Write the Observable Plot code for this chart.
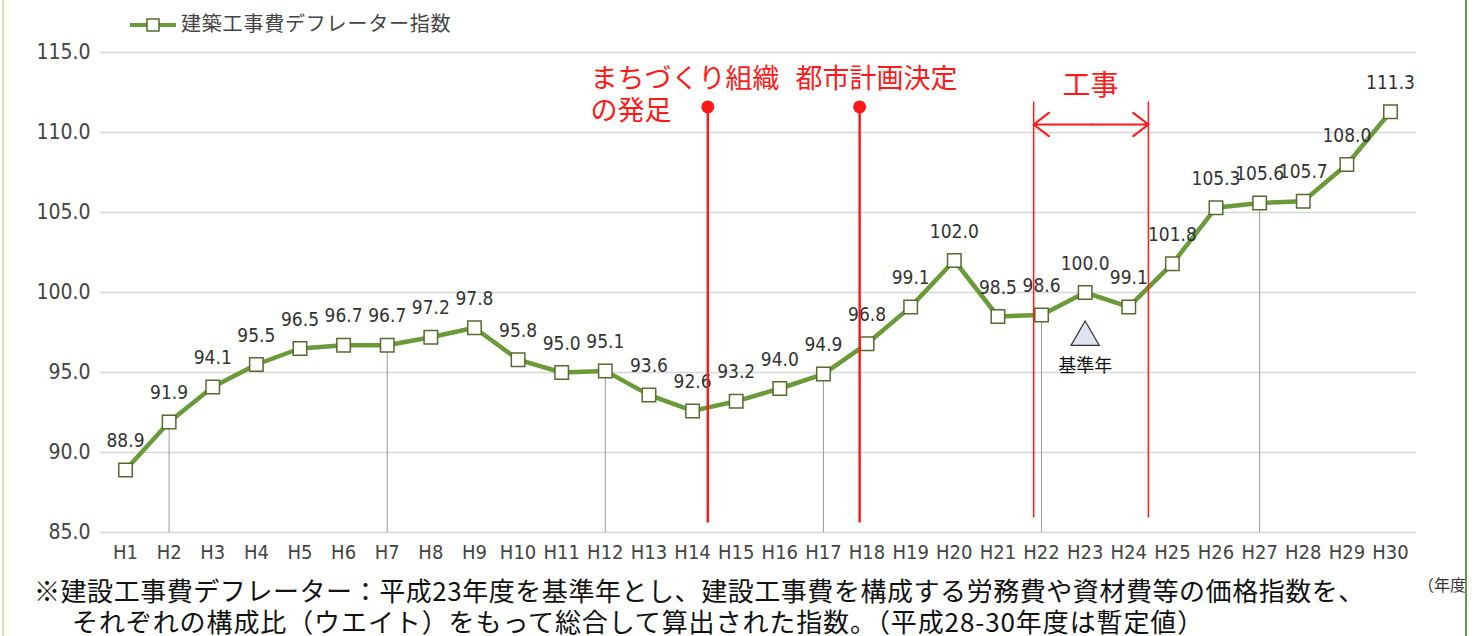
<!DOCTYPE html>
<html>
<head>
<meta charset="utf-8">
<script src="https://cdn.jsdelivr.net/npm/d3@7"></script>
<script src="https://cdn.jsdelivr.net/npm/@observablehq/plot@0.6"></script>
<style>
  html, body { margin: 0; padding: 0; background: #fff; }
  #wrap { position: relative; width: 1484px; height: 636px; overflow: hidden; background: #fff; }
  #legend { position: relative; height: 40px; font-family: "Noto Sans CJK JP", sans-serif; font-size: 20px; color: #444; }
  #legend .sym { position: absolute; left: 130px; top: 16px; width: 46px; height: 18px; }
  #legend .txt { position: absolute; left: 181px; top: 8px; letter-spacing: 0.8px; white-space: nowrap; }
  #note { position: relative; height: 66px; font-family: "Noto Sans CJK JP", sans-serif; font-size: 26px; color: #111; line-height: 30px; }
  #note .l1 { position: absolute; left: 34px; top: 5px; white-space: nowrap; letter-spacing: 0.55px; }
  #note .l2 { position: absolute; left: 72px; top: 36px; white-space: nowrap; letter-spacing: 0.9px; }
  #unit { position: absolute; left: 1418px; top: 572px; font-family: "Noto Sans CJK JP", sans-serif; font-size: 16px; color: #333; white-space: nowrap; }
  #bl { position: absolute; left: 2px; top: 0; width: 2px; height: 636px; background: #c9e3b8; }
  #br { position: absolute; left: 1465px; top: 0; width: 1.5px; height: 636px; background: #6b8f4a; }
  #cover { position: absolute; left: 1467px; top: 0; width: 17px; height: 636px; background: #fff; }
</style>
</head>
<body>
<div id="wrap">
  <div id="legend">
    <svg class="sym" viewBox="0 0 46 18"><line x1="0" y1="9" x2="46" y2="9" stroke="#6b9a3a" stroke-width="4"/><rect x="17" y="3" width="12" height="12" fill="#fff" stroke="#556b2f" stroke-width="1.5"/></svg>
    <span class="txt">建築工事費デフレーター指数</span>
  </div>
  <div id="chart"></div>
  <div id="note">
    <div class="l1">※建設工事費デフレーター：平成23年度を基準年とし、建設工事費を構成する労務費や資材費等の価格指数を、</div>
    <div class="l2">それぞれの構成比（ウエイト）をもって総合して算出された指数。（平成28-30年度は暫定値）</div>
  </div>
  <div id="unit">（年度</div>
  <div id="bl"></div>
  <div id="cover"></div>
  <div id="br"></div>
</div>
<script>
// ---- data ----
const years = [1,2,3,4,5,6,7,8,9,10,11,12,13,14,15,16,17,18,19,20,21,22,23,24,25,26,27,28,29,30];
const values = [88.9,91.9,94.1,95.5,96.5,96.7,96.7,97.2,97.8,95.8,95.0,95.1,93.6,92.6,93.2,94.0,94.9,96.8,99.1,102.0,98.5,98.6,100.0,99.1,101.8,105.3,105.6,105.7,108.0,111.3];
const yTicks = [85,90,95,100,105,110,115];
const dropYears = [2,7,12,17,22,27];
const seriesName = "建築工事費デフレーター指数";
// event markers (x in fiscal-year units)
const eventLines = [{x: 14.35, label: ["まちづくり組織", "の発足"]}, {x: 17.83, label: ["都市計画決定"]}];
const workStart = 21.82, workEnd = 24.45, workLabel = "工事";
const baseYear = 23, baseLabel = "基準年";

const data = years.map((y, i) => ({year: y, value: values[i]}));
const drops = data.filter(d => dropYears.includes(d.year));
const red = "#ff1a1a";
const cjk = "Noto Sans CJK JP";

const chart = Plot.plot({
  width: 1484,
  height: 530,
  marginTop: 12,
  marginBottom: 38,
  marginLeft: 125,
  marginRight: 94,
  style: {fontFamily: "Liberation Sans Narrow, DejaVu Sans Condensed, sans-serif", fontSize: "20px", color: "#333", background: "#fff"},
  x: {type: "linear", domain: [1, 30]},
  y: {domain: [85, 115]},
  marks: [
    Plot.ruleY(yTicks, {x1: 0.43, x2: 30.6, stroke: "#d6d6d6", strokeWidth: 1.5}),
    Plot.ruleX(drops, {x: "year", y1: 85, y2: "value", stroke: "#9a9a9a", strokeWidth: 1}),
    Plot.axisY({ticks: yTicks, tickFormat: d => d.toFixed(1), tickSize: 0, tickPadding: 35, fontSize: 21, fill: "#444", letterSpacing: 1, label: null}),
    Plot.axisX({ticks: years, tickFormat: d => "H" + d, tickSize: 0, tickPadding: 12, fontSize: 20, fill: "#444", label: null}),
    Plot.line(data, {x: "year", y: "value", stroke: "#6b9a3a", strokeWidth: 4.5}),
    Plot.dot(data, {x: "year", y: "value", symbol: "square", r: 7.6, fill: "#fff", stroke: "#556b2f", strokeWidth: 1.5}),
    Plot.text(data, {x: "year", y: "value", text: d => d.value.toFixed(1), dy: -29, fontSize: 19, fill: "#333", letterSpacing: 1.2}),
    // event lines
    Plot.ruleX(eventLines, {x: "x", y1: 85.6, y2: 111.6, stroke: red, strokeWidth: 2.5}),
    Plot.dot(eventLines, {x: "x", y: 111.6, r: 6.5, fill: red}),
    Plot.text([eventLines[0]], {x: 11.66, y: 113.3, text: d => d.label[0], textAnchor: "start", fontFamily: cjk, fontSize: 27, fill: red}),
    Plot.text([eventLines[0]], {x: 11.66, y: 111.3, text: d => d.label[1], textAnchor: "start", fontFamily: cjk, fontSize: 27, fill: red}),
    Plot.text([eventLines[1]], {x: 16.36, y: 113.3, text: d => d.label[0], textAnchor: "start", fontFamily: cjk, fontSize: 27, fill: red}),
    // construction period
    Plot.ruleX([workStart, workEnd], {y1: 85.9, y2: 111.9, stroke: red, strokeWidth: 1.5}),
    Plot.arrow([{a: (workStart + workEnd) / 2, b: workEnd}, {a: (workStart + workEnd) / 2, b: workStart}], {x1: "a", x2: "b", y1: 110.5, y2: 110.5, stroke: red, strokeWidth: 2.2, headLength: 17, headAngle: 75, bend: 0}),
    Plot.text([workLabel], {x: 23.12, y: 112.9, text: d => d, fontFamily: cjk, fontSize: 28, fill: red}),
    // base year marker
    Plot.dot([baseYear], {x: d => d, y: 97.2, symbol: "triangle", r: 10.5, fill: "#dfe3ef", stroke: "#333", strokeWidth: 1.2}),
    Plot.text([baseLabel], {x: baseYear, y: 95.4, text: d => d, fontFamily: cjk, fontSize: 18, fill: "#111"})
  ]
});
document.getElementById("chart").appendChild(chart);
</script>
</body>
</html>
